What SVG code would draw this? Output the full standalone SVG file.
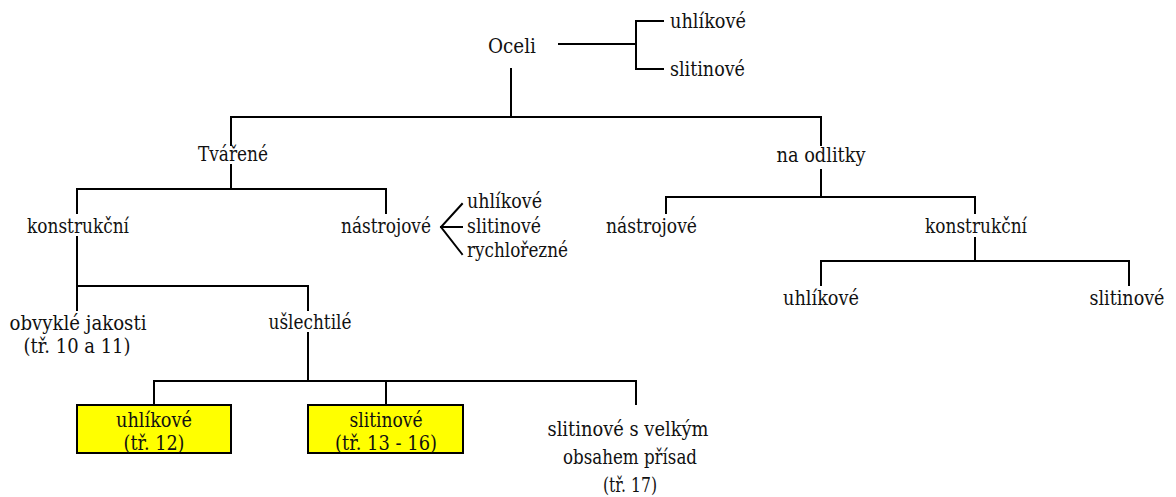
<svg xmlns="http://www.w3.org/2000/svg" width="1176" height="497" viewBox="0 0 1176 497">
<style>
text{font-family:'DejaVu Serif',serif;font-size:21px;fill:#111}
.m{text-anchor:middle}
.c{fill:none;stroke:#000;stroke-width:2;stroke-linecap:square}
.box{fill:#ffff00;stroke:#000;stroke-width:2}
</style>
<rect width="1176" height="497" fill="#fff"/>
<g id="connectors" class="c">
<path d="M559 44H636M663 21H636V69H663"/>
<path d="M511 69V117M231 145V117H821V145"/>
<path d="M231 165V189M77 213V189H386V213"/>
<path d="M462 204L441 227L462 254M441 227H462"/>
<path d="M821 170V197M666 213V197H975V213"/>
<path d="M975 238V261M821 285V261H1129V285"/>
<path d="M77 237V310M77 286H308V310"/>
<path d="M308 333V381M154 404V381H636V404M386 381V404"/>
</g>
<g id="oceli"><text x="488" y="53" textLength="48" lengthAdjust="spacingAndGlyphs">Oceli</text></g>
<g id="oceli-uhlikove"><text x="670" y="28" textLength="76" lengthAdjust="spacingAndGlyphs">uhlíkové</text></g>
<g id="oceli-slitinove"><text x="670" y="76" textLength="75" lengthAdjust="spacingAndGlyphs">slitinové</text></g>
<g id="tvarene"><text class="m" x="233" y="161" textLength="70" lengthAdjust="spacingAndGlyphs">Tvářené</text></g>
<g id="na-odlitky"><text class="m" x="821" y="162" textLength="89" lengthAdjust="spacingAndGlyphs">na odlitky</text></g>
<g id="konstrukcni-t"><text class="m" x="78" y="233" textLength="102" lengthAdjust="spacingAndGlyphs">konstrukční</text></g>
<g id="nastrojove-t"><text class="m" x="386" y="233" textLength="90" lengthAdjust="spacingAndGlyphs">nástrojové</text></g>
<g id="nastrojove-list">
<text x="467" y="208" textLength="75" lengthAdjust="spacingAndGlyphs">uhlíkové</text>
<text x="467" y="233" textLength="74" lengthAdjust="spacingAndGlyphs">slitinové</text>
<text x="467" y="257" textLength="101" lengthAdjust="spacingAndGlyphs">rychlořezné</text>
</g>
<g id="nastrojove-o"><text x="606" y="233" textLength="91" lengthAdjust="spacingAndGlyphs">nástrojové</text></g>
<g id="konstrukcni-o"><text class="m" x="976" y="233" textLength="102" lengthAdjust="spacingAndGlyphs">konstrukční</text></g>
<g id="uhlikove-o"><text class="m" x="821" y="305" textLength="76" lengthAdjust="spacingAndGlyphs">uhlíkové</text></g>
<g id="slitinove-o"><text class="m" x="1127" y="305" textLength="75" lengthAdjust="spacingAndGlyphs">slitinové</text></g>
<g id="obvykle"><text class="m" x="78" y="330" textLength="137" lengthAdjust="spacingAndGlyphs">obvyklé jakosti</text><text class="m" x="77" y="353" textLength="107" lengthAdjust="spacingAndGlyphs">(tř. 10 a 11)</text></g>
<g id="uslechtile"><text class="m" x="310" y="329" textLength="83" lengthAdjust="spacingAndGlyphs">ušlechtilé</text></g>
<g id="uhlikove-12"><rect class="box" x="77" y="405" width="154" height="48"/><text class="m" x="154" y="427" textLength="76" lengthAdjust="spacingAndGlyphs">uhlíkové</text><text class="m" x="154" y="450" textLength="61" lengthAdjust="spacingAndGlyphs">(tř. 12)</text></g>
<g id="slitinove-13-16"><rect class="box" x="308" y="405" width="155" height="48"/><text class="m" x="386" y="427" textLength="73" lengthAdjust="spacingAndGlyphs">slitinové</text><text class="m" x="386" y="450" textLength="102" lengthAdjust="spacingAndGlyphs">(tř. 13 - 16)</text></g>
<g id="slitinove-17"><text class="m" x="628" y="436" textLength="161" lengthAdjust="spacingAndGlyphs">slitinové s velkým</text><text class="m" x="630" y="464" textLength="134" lengthAdjust="spacingAndGlyphs">obsahem přísad</text><text class="m" x="630" y="492" textLength="54" lengthAdjust="spacingAndGlyphs">(tř. 17)</text></g>
</svg>
